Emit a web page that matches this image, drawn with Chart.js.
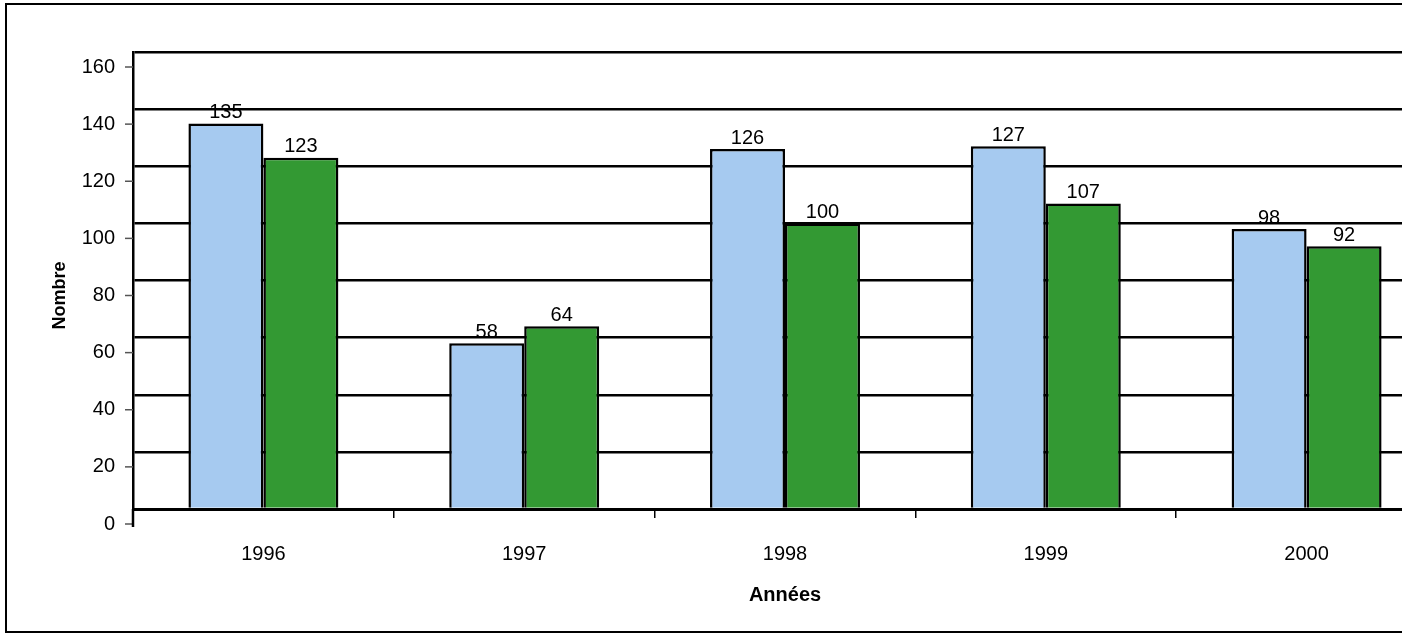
<!DOCTYPE html>
<html>
<head>
<meta charset="utf-8">
<script src="https://cdn.jsdelivr.net/npm/chart.js@4/dist/chart.umd.min.js"></script>
<style>
  html, body { margin: 0; padding: 0; background: #fff; overflow: hidden; width: 1402px; height: 634px; }
  #box {
    position: absolute; left: 5px; top: 3px;
    width: 1460px; height: 626px;
    border-left: 2px solid #000; border-top: 2px solid #000; border-bottom: 2px solid #000;
    background: #fff;
  }
  #chart { position: absolute; left: 0; top: 0; }
</style>
</head>
<body>
<div id="box"><canvas id="chart" width="1450" height="626"></canvas></div>
<script>
var years = ['1996', '1997', '1998', '1999', '2000'];
var serie1 = [135, 58, 126, 127, 98];
var serie2 = [123, 64, 100, 107, 92];
var yTicks = [0, 20, 40, 60, 80, 100, 120, 140, 160];

var font = 'Arial, "Liberation Sans", sans-serif';
var labelShift = 15;

// valeurs au-dessus des barres + petits traits de l'axe Y decales comme dans Excel
var extras = {
  id: 'extras',
  afterDatasetsDraw: function(chart) {
    var ctx = chart.ctx;
    ctx.save();
    ctx.fillStyle = '#000';
    ctx.font = '20px ' + font;
    ctx.textAlign = 'center';
    ctx.textBaseline = 'bottom';
    chart.data.datasets.forEach(function(ds, i) {
      chart.getDatasetMeta(i).data.forEach(function(bar, j) {
        ctx.fillText(ds.data[j], bar.x, bar.y - 1);
      });
    });
    ctx.restore();
  },
  afterDraw: function(chart) {
    var ctx = chart.ctx;
    var y = chart.scales.y;
    var area = chart.chartArea;
    ctx.save();
    ctx.strokeStyle = '#555';
    ctx.lineWidth = 1.5;
    yTicks.forEach(function(v) {
      var py = y.getPixelForValue(v) + labelShift;
      ctx.beginPath();
      ctx.moveTo(area.left - 8, py);
      ctx.lineTo(area.left, py);
      ctx.stroke();
    });
    ctx.strokeStyle = '#000';
    ctx.lineWidth = 2.5;
    ctx.beginPath();
    ctx.moveTo(area.left, area.bottom);
    ctx.lineTo(area.left, area.bottom + labelShift + 3);
    ctx.stroke();
    // titre axe Y
    ctx.fillStyle = '#000';
    ctx.font = 'bold 18px ' + font;
    ctx.textAlign = 'center';
    ctx.textBaseline = 'middle';
    ctx.translate(53, (area.top + area.bottom) / 2 + labelShift);
    ctx.rotate(-Math.PI / 2);
    ctx.fillText('Nombre', 0, 0);
    ctx.restore();
  }
};

window.onload = function() {
  var ctx = document.getElementById('chart').getContext('2d');
  new Chart(ctx, {
    type: 'bar',
    data: {
      labels: years,
      datasets: [{
        label: 'Série 1',
        data: serie1,
        backgroundColor: '#a6caf0',
        borderColor: '#000',
        borderWidth: 2.5,
        categoryPercentage: 0.575,
        barPercentage: 1
      }, {
        label: 'Série 2',
        data: serie2,
        backgroundColor: '#339933',
        borderColor: '#000',
        borderWidth: 2.5,
        categoryPercentage: 0.575,
        barPercentage: 1
      }]
    },
    options: {
      responsive: false,
      animation: false,
      layout: { padding: { top: 47, right: 20, left: 0, bottom: 0 } },
      plugins: {
        legend: { display: false },
        tooltip: { enabled: false }
      },
      scales: {
        x: {
          offset: true,
          grid: {
            offset: true,
            drawOnChartArea: false,
            color: '#000',
            lineWidth: 1.5,
            tickLength: 9
          },
          border: { color: '#000', width: 3 },
          ticks: {
            color: '#000',
            font: { family: font, size: 20 },
            padding: 24,
            maxRotation: 0
          },
          title: {
            display: true,
            text: 'Années',
            color: '#000',
            font: { family: font, size: 20, weight: 'bold' },
            padding: { top: 0, bottom: 24 }
          },
          afterFit: function(scale) { scale.height = 122; }
        },
        y: {
          min: 0,
          max: 160,
          ticks: {
            stepSize: 20,
            color: '#000',
            font: { family: font, size: 20 },
            padding: 18,
            labelOffset: labelShift
          },
          grid: {
            color: '#000',
            lineWidth: 2.5,
            drawTicks: false
          },
          border: { color: '#000', width: 2.5 },
          afterFit: function(scale) { scale.width = 126; }
        }
      }
    },
    plugins: [extras]
  });
};
</script>
</body>
</html>
